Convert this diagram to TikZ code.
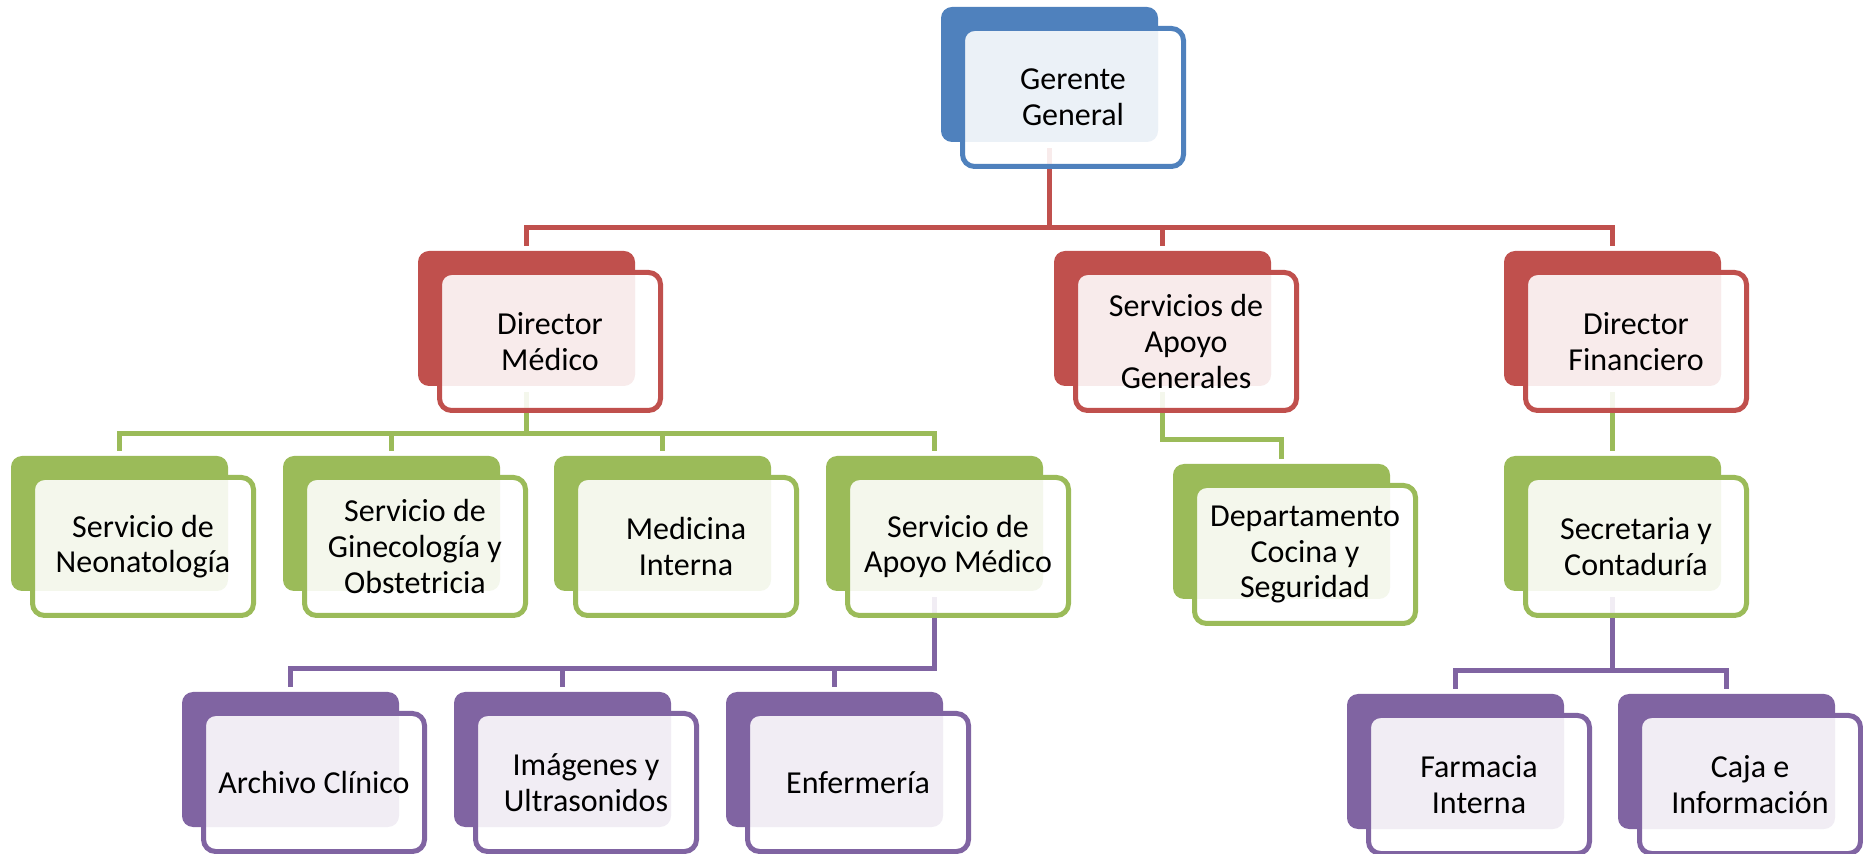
\documentclass[tikz,border=0pt]{standalone}
\usepackage{fontspec}
\setmainfont{Carlito}
\usetikzlibrary{calc}
\pgfdeclarelayer{bg}
\pgfsetlayers{bg,main}
\definecolor{cblue}{HTML}{4F81BD}
\definecolor{cred}{HTML}{C0504D}
\definecolor{cgreen}{HTML}{9BBB59}
\definecolor{cpurple}{HTML}{8064A2}
\tikzset{
  backbox/.style={rectangle, rounded corners=5.5pt, minimum width=108.5pt, minimum height=67.5pt, inner sep=0pt, draw=none},
  frontbox/.style={rectangle, rounded corners=6pt, minimum width=110.5pt, minimum height=69pt, inner sep=0pt, line width=2.5pt, fill=white, fill opacity=0.89, text opacity=1, align=center, font=\fontsize{16}{17.8}\selectfont},
  conn/.style={line width=2.5pt},
}
\newcommand\obox[5]{%
  \node[backbox, fill=#4] (#1-b) at ({#2+108.5},{#3+67.5}) {};
  \node[frontbox, draw=#4] (#1) at ({#2+132},{#3+90.5}) {#5};
}
\begin{document}
\begin{tikzpicture}[x=0.5pt, y=-0.5pt]
\useasboundingbox (0,0) rectangle (1863,854);
\obox{gg}{941}{7}{cblue}{Gerente\\General}
\obox{dm}{418}{251}{cred}{Director\\Médico}
\obox{sa}{1054}{251}{cred}{Servicios de\\Apoyo\\Generales}
\obox{df}{1504}{251}{cred}{Director\\Financiero}
\obox{neo}{11}{456}{cgreen}{Servicio de\\Neonatología}
\obox{gin}{283}{456}{cgreen}{Servicio de\\Ginecología y\\Obstetricia}
\obox{mi}{554}{456}{cgreen}{Medicina\\Interna}
\obox{am}{826}{456}{cgreen}{Servicio de\\Apoyo Médico}
\obox{dc}{1173}{464}{cgreen}{Departamento\\Cocina y\\Seguridad}
\obox{sc}{1504}{456}{cgreen}{Secretaria y\\Contaduría}
\obox{ac}{182}{692}{cpurple}{Archivo Clínico}
\obox{im}{454}{692}{cpurple}{Imágenes y\\Ultrasonidos}
\obox{en}{726}{692}{cpurple}{Enfermería}
\obox{fa}{1347}{694}{cpurple}{Farmacia\\Interna}
\obox{cj}{1618}{694}{cpurple}{Caja e\\Información}
\coordinate (busR) at (0,227.5);
\coordinate (busG) at (0,433.5);
\coordinate (busD) at (0,440);
\coordinate (busP) at (0,668.5);
\coordinate (busQ) at (0,671);
\begin{pgfonlayer}{bg}
\draw[conn, cred] ([yshift=-3pt]gg-b.south) -- (gg-b.south |- busR);
\draw[conn, cred] ([yshift=2.5pt]dm-b.north) |- (df-b.north |- busR) -- ([yshift=2.5pt]df-b.north);
\draw[conn, cred] (sa-b.north |- busR) -- ([yshift=2.5pt]sa-b.north);
\draw[conn, cgreen] ([yshift=-3pt]dm-b.south) -- (dm-b.south |- busG);
\draw[conn, cgreen] ([yshift=2.5pt]neo-b.north) |- (am-b.north |- busG) -- ([yshift=2.5pt]am-b.north);
\draw[conn, cgreen] (gin-b.north |- busG) -- ([yshift=2.5pt]gin-b.north);
\draw[conn, cgreen] (mi-b.north |- busG) -- ([yshift=2.5pt]mi-b.north);
\draw[conn, cgreen] ([yshift=-3pt]sa-b.south) |- (dc-b.north |- busD) -- ([yshift=2.5pt]dc-b.north);
\draw[conn, cgreen] ([yshift=-3pt]df-b.south) -- ([yshift=2.5pt]sc-b.north);
\draw[conn, cpurple] ([yshift=-3pt]am-b.south) |- (ac-b.north |- busP) -- ([yshift=2.5pt]ac-b.north);
\draw[conn, cpurple] (im-b.north |- busP) -- ([yshift=2.5pt]im-b.north);
\draw[conn, cpurple] (en-b.north |- busP) -- ([yshift=2.5pt]en-b.north);
\draw[conn, cpurple] ([yshift=-3pt]sc-b.south) -- (sc-b.south |- busQ);
\draw[conn, cpurple] ([yshift=2.5pt]fa-b.north) |- (cj-b.north |- busQ) -- ([yshift=2.5pt]cj-b.north);
\end{pgfonlayer}
\end{tikzpicture}
\end{document}
